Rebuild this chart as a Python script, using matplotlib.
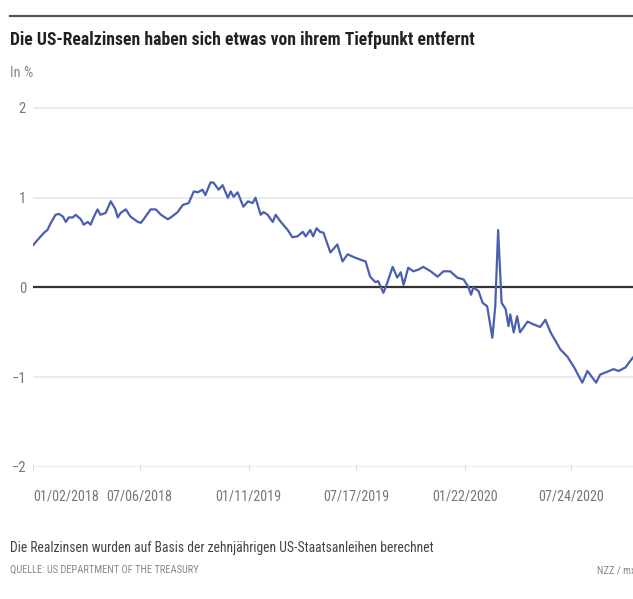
import matplotlib
matplotlib.use("Agg")
import matplotlib.pyplot as plt
from matplotlib import font_manager as fm
import numpy as np

dates = [
    "2018-01-02", "2018-01-10", "2018-01-21", "2018-01-27", "2018-02-02", "2018-02-10",
    "2018-02-16", "2018-02-23", "2018-02-28", "2018-03-05", "2018-03-12", "2018-03-17",
    "2018-03-26", "2018-03-31", "2018-04-07", "2018-04-12", "2018-04-17", "2018-04-24",
    "2018-04-29", "2018-05-08", "2018-05-17", "2018-05-25", "2018-05-29", "2018-06-03",
    "2018-06-12", "2018-06-20", "2018-07-03", "2018-07-08", "2018-07-13", "2018-07-25",
    "2018-08-03", "2018-08-12", "2018-08-24", "2018-08-29", "2018-09-10", "2018-09-19",
    "2018-09-29", "2018-10-08", "2018-10-15", "2018-10-23", "2018-10-28", "2018-11-06",
    "2018-11-11", "2018-11-20", "2018-11-27", "2018-12-06", "2018-12-11", "2018-12-16",
    "2018-12-23", "2019-01-02", "2019-01-10", "2019-01-18", "2019-01-23", "2019-02-01",
    "2019-02-06", "2019-02-13", "2019-02-22", "2019-02-27", "2019-03-08", "2019-03-20",
    "2019-03-28", "2019-04-06", "2019-04-15", "2019-04-20", "2019-04-28", "2019-05-03",
    "2019-05-09", "2019-05-15", "2019-05-21", "2019-06-02", "2019-06-14", "2019-06-23",
    "2019-07-02", "2019-07-12", "2019-07-24", "2019-08-02", "2019-08-10", "2019-08-19",
    "2019-08-24", "2019-09-02", "2019-09-09", "2019-09-18", "2019-09-26", "2019-10-02",
    "2019-10-07", "2019-10-15", "2019-10-24", "2019-11-02", "2019-11-10", "2019-11-23",
    "2019-12-05", "2019-12-15", "2019-12-27", "2020-01-08", "2020-01-19", "2020-01-27",
    "2020-02-01", "2020-02-05", "2020-02-14", "2020-02-21", "2020-02-29", "2020-03-09",
    "2020-03-14", "2020-03-19", "2020-03-25", "2020-04-01", "2020-04-06", "2020-04-09",
    "2020-04-15", "2020-04-21", "2020-04-26", "2020-05-09", "2020-05-19", "2020-05-31",
    "2020-06-09", "2020-06-18", "2020-07-05", "2020-07-17", "2020-07-28", "2020-08-12",
    "2020-08-21", "2020-08-29", "2020-09-05", "2020-09-12", "2020-09-24", "2020-10-05",
    "2020-10-14", "2020-10-26", "2020-11-03", "2020-11-08",
]
values = [
    0.47, 0.53, 0.61, 0.64, 0.72, 0.81,
    0.82, 0.79, 0.73, 0.78, 0.78, 0.81,
    0.76, 0.70, 0.73, 0.70, 0.78, 0.87,
    0.81, 0.83, 0.96, 0.87, 0.78, 0.83,
    0.87, 0.79, 0.73, 0.72, 0.76, 0.87,
    0.87, 0.81, 0.76, 0.78, 0.84, 0.92,
    0.94, 1.07, 1.06, 1.09, 1.03, 1.17,
    1.17, 1.09, 1.14, 1.00, 1.07, 1.01,
    1.06, 0.90, 0.96, 0.94, 1.00, 0.81,
    0.84, 0.81, 0.73, 0.81, 0.73, 0.64,
    0.56, 0.57, 0.62, 0.57, 0.64, 0.57,
    0.66, 0.62, 0.61, 0.39, 0.48, 0.29,
    0.37, 0.34, 0.31, 0.29, 0.12, 0.06,
    0.07, -0.06, 0.06, 0.23, 0.11, 0.17,
    0.03, 0.22, 0.18, 0.20, 0.23, 0.18,
    0.12, 0.18, 0.18, 0.11, 0.09, 0.01,
    -0.08, 0.00, -0.04, -0.17, -0.21, -0.56,
    -0.21, 0.64, -0.17, -0.24, -0.43, -0.30,
    -0.50, -0.32, -0.50, -0.38, -0.41, -0.44,
    -0.36, -0.50, -0.69, -0.77, -0.88, -1.06,
    -0.93, -1.00, -1.06, -0.97, -0.94, -0.91,
    -0.93, -0.89, -0.82, -0.78,
]

tick_dates = ["2018-01-02", "2018-07-06", "2019-01-11", "2019-07-17", "2020-01-22", "2020-07-24"]
tick_labels = ["01/02/2018", "07/06/2018", "01/11/2019", "07/17/2019", "01/22/2020", "07/24/2020"]
y_ticks = [2, 1, 0, -1, -2]


def pick_font():
    # the original uses a narrow grotesque, take the narrowest one we have
    for fam in ["Liberation Sans Narrow", "Roboto Condensed", "Open Sans Condensed"]:
        try:
            fm.findfont(fm.FontProperties(family=fam), fallback_to_default=False)
            return fam, "normal"
        except ValueError:
            pass
    p = fm.findfont(fm.FontProperties(family="DejaVu Sans", stretch="condensed"))
    if "Condensed" in p:
        return "DejaVu Sans", "condensed"
    return "Roboto", "normal"


family, stretch = pick_font()
plt.rcParams["font.family"] = [family, "DejaVu Sans"]
plt.rcParams["font.stretch"] = stretch

x = np.array(dates, dtype="datetime64[D]")
xt = np.array(tick_dates, dtype="datetime64[D]")

fig = plt.figure(figsize=(6.33, 5.99), dpi=100)
renderer = fig.canvas.get_renderer()


def fit(t, width_px):
    for _ in range(3):
        w = t.get_window_extent(renderer).width
        t.set_fontsize(t.get_fontsize() * width_px / w)


ax = fig.add_axes([33 / 633, (599 - 467) / 599, 600 / 633, (467 - 99) / 599])

for v in y_ticks:
    if v == 0:
        ax.axhline(0, color="#333333", lw=1.6, zorder=2)
    else:
        ax.axhline(v, color="#e6e6e6", lw=1.2, zorder=1)

ax.plot(x, values, color="#4a5fb0", lw=1.6, zorder=3)

ax.set_xlim(np.datetime64("2018-01-02"), np.datetime64("2020-11-08"))
ax.set_ylim(-2, 2.1)
for s in ax.spines.values():
    s.set_visible(False)

ax.set_yticks(y_ticks)
ax.set_yticklabels([str(v).replace("-", "\u2212") for v in y_ticks])
ax.tick_params(axis="y", length=0, pad=5, labelsize=10.5, labelcolor="#777777")

ax.set_xticks(xt)
ax.set_xticklabels(tick_labels)
ax.tick_params(axis="x", direction="inout", length=5, width=0.8, color="#dddddd",
               pad=14, labelcolor="#777777")
probe = fig.text(0, 0, tick_labels[0], fontsize=9)
fit(probe, 66)
ax.tick_params(axis="x", labelsize=probe.get_fontsize())
probe.remove()
ax.get_xticklabels()[0].set_horizontalalignment("left")

# header
fig.add_artist(plt.Line2D([10 / 633, 1], [1 - 16 / 599] * 2, color="#555555", lw=1.6))
title = fig.text(10 / 633, 1 - 40 / 599, "Die US-Realzinsen haben sich etwas von ihrem Tiefpunkt entfernt",
                 fontsize=14, fontweight="bold", color="#222222", va="center")
fit(title, 460)
unit = fig.text(10 / 633, 1 - 73 / 599, "In %", fontsize=10, color="#888888", va="center")
fit(unit, 23)

# footer
note = fig.text(10 / 633, 1 - 548 / 599,
                "Die Realzinsen wurden auf Basis der zehnjährigen US-Staatsanleihen berechnet",
                fontsize=10.5, color="#444444", va="center")
fit(note, 423)
src = fig.text(10 / 633, 1 - 570 / 599, "QUELLE: US DEPARTMENT OF THE TREASURY",
               fontsize=6.5, color="#888888", va="center")
fit(src, 192)
fig.text(597 / 633, 1 - 570 / 599, "NZZ / mx", fontsize=src.get_fontsize(), color="#888888", va="center")

fig.savefig("out.png", dpi=100)
